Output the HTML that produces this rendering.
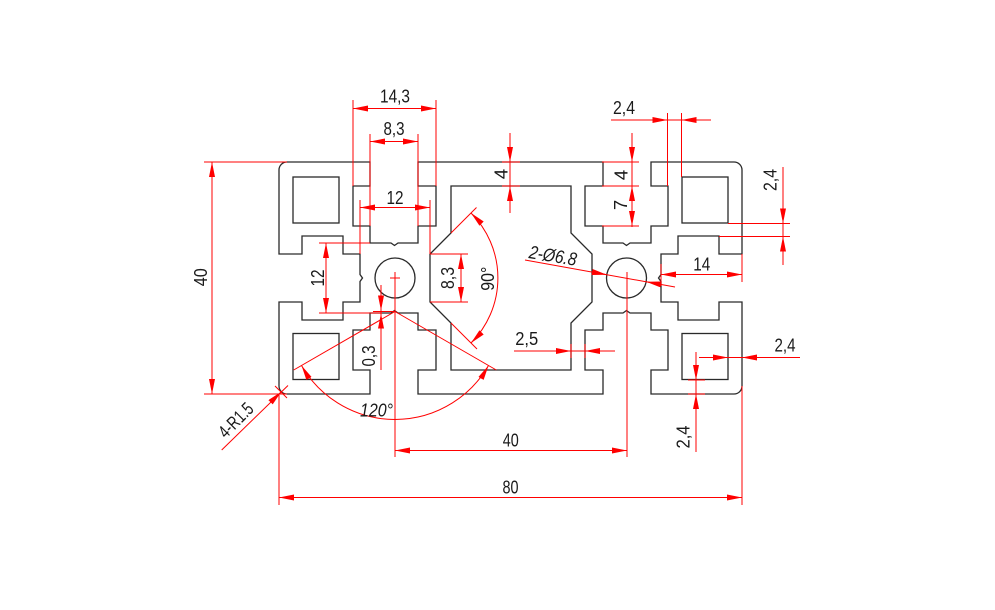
<!DOCTYPE html>
<html>
<head>
<meta charset="utf-8">
<style>
html,body{margin:0;padding:0;background:#fff}
svg{display:block}
text{font-family:"Liberation Sans Narrow","Liberation Sans",sans-serif;font-size:18.5px;fill:#1a1a1a}
</style>
</head>
<body>
<svg width="995" height="610" viewBox="0 0 995 610" xmlns="http://www.w3.org/2000/svg">
<defs>
<marker id="a" viewBox="0 0 15 6" refX="15" refY="3" markerWidth="15" markerHeight="6" markerUnits="userSpaceOnUse" orient="auto-start-reverse">
<path d="M0,0L15,3L0,6z" fill="#f00"/>
</marker>
</defs>
<rect width="995" height="610" fill="#fff"/>

<!-- profile outline -->
<g stroke="#2a2a2a" stroke-width="1.3" fill="none">
<path d="M287,162 H370 V186 H353 V226 H370 V243 H391 L394.5,245.5 L398,243 H418 V226 H436 V186 H418 V162
H603 V186 H585 V226 H603 V243 H623 L626.5,245.5 L630,243 H651 V226 H668 V186 H651 V162
H734 A8,8 0 0 1 742,170
V254 H719 V236 H678 V254 H661 V274.5 L658.5,278 L661,281.5 V302 H678 V320 H719 V302 H742
V386 A8,8 0 0 1 734,394
H651 V370 H668 V330 H651 V313 H630 L626.5,310.5 L623,313 H603 V330 H585 V370 H603 V394
H418 V370 H436 V330 H418 V313 H398 L394.5,310.5 L391,313 H370 V330 H353 V370 H370 V394
H287 A8,8 0 0 1 279,386
V302 H302 V320 H343 V302 H360 V281.5 L362.5,278 L360,274.5 V254 H343 V236 H302 V254 H279
V170 A8,8 0 0 1 287,162 Z"/>
<path d="M451,186 H571 V233 L592,254 V302 L571,323 V370 H451 V323 L430,302 V254 L451,233 Z"/>
<rect x="293" y="177" width="46" height="46"/>
<rect x="293" y="333.5" width="46" height="46"/>
<rect x="682" y="177" width="46" height="46"/>
<rect x="682" y="333.5" width="46" height="46"/>
<circle cx="395" cy="278" r="20"/>
<circle cx="626.5" cy="278" r="20"/>
</g>

<!-- red dimensions -->
<g stroke="#f00" stroke-width="1" fill="none">
<!-- 14,3 -->
<line x1="353" y1="100" x2="353" y2="186"/>
<line x1="436" y1="100" x2="436" y2="186"/>
<line x1="353" y1="108.5" x2="436" y2="108.5" marker-start="url(#a)" marker-end="url(#a)"/>
<!-- 8,3 -->
<line x1="370" y1="134" x2="370" y2="226"/>
<line x1="418" y1="134" x2="418" y2="226"/>
<line x1="370" y1="141.5" x2="418" y2="141.5" marker-start="url(#a)" marker-end="url(#a)"/>
<!-- 12 top -->
<line x1="360" y1="200" x2="360" y2="254"/>
<line x1="430" y1="200" x2="430" y2="254"/>
<line x1="360" y1="207.5" x2="430" y2="207.5" marker-start="url(#a)" marker-end="url(#a)"/>
<!-- 4 top center -->
<line x1="510" y1="133" x2="510" y2="162" marker-end="url(#a)"/>
<line x1="510" y1="162" x2="510" y2="186"/>
<line x1="510" y1="213" x2="510" y2="186" marker-end="url(#a)"/>
<line x1="502" y1="162" x2="520" y2="162"/>
<line x1="502" y1="186" x2="520" y2="186"/>
<!-- 2,4 top right -->
<line x1="611" y1="120" x2="711" y2="120"/>
<line x1="652" y1="120" x2="667.5" y2="120" marker-end="url(#a)"/>
<line x1="696.5" y1="120" x2="681.5" y2="120" marker-end="url(#a)"/>
<line x1="667.5" y1="113" x2="667.5" y2="186"/>
<line x1="681.5" y1="113" x2="681.5" y2="177"/>
<!-- 4 / 7 -->
<line x1="632" y1="133" x2="632" y2="227"/>
<line x1="632" y1="147" x2="632" y2="162" marker-end="url(#a)"/>
<line x1="632" y1="201" x2="632" y2="186" marker-end="url(#a)"/>
<line x1="632" y1="211" x2="632" y2="226" marker-end="url(#a)"/>
<line x1="602" y1="162" x2="639" y2="162"/>
<line x1="602" y1="186" x2="639" y2="186"/>
<line x1="602" y1="226" x2="639" y2="226"/>
<!-- 2,4 right vertical -->
<line x1="783" y1="167" x2="783" y2="265"/>
<line x1="783" y1="208" x2="783" y2="223.5" marker-end="url(#a)"/>
<line x1="783" y1="252" x2="783" y2="236.5" marker-end="url(#a)"/>
<line x1="728" y1="223.5" x2="790" y2="223.5"/>
<line x1="719" y1="236.5" x2="790" y2="236.5"/>
<!-- 40 left -->
<line x1="204" y1="162" x2="287" y2="162"/>
<line x1="204" y1="394" x2="287" y2="394"/>
<line x1="212" y1="162" x2="212" y2="394" marker-start="url(#a)" marker-end="url(#a)"/>
<!-- 12 left -->
<line x1="319" y1="243" x2="370" y2="243"/>
<line x1="319" y1="313" x2="382" y2="313"/>
<line x1="326" y1="243" x2="326" y2="313" marker-start="url(#a)" marker-end="url(#a)"/>
<!-- 0,3 -->
<line x1="373" y1="311.5" x2="395" y2="311.5"/>
<line x1="381" y1="285" x2="381" y2="370"/>
<line x1="381" y1="295" x2="381" y2="310.5" marker-end="url(#a)"/>
<line x1="381" y1="329" x2="381" y2="313.5" marker-end="url(#a)"/>
<!-- hole centers -->
<line x1="390" y1="278" x2="400" y2="278"/>
<line x1="395" y1="272" x2="395" y2="457"/>
<line x1="627" y1="272" x2="627" y2="457"/>
<!-- 40 bottom -->
<line x1="395" y1="450.5" x2="627" y2="450.5" marker-start="url(#a)" marker-end="url(#a)"/>
<!-- 80 -->
<line x1="279" y1="394" x2="279" y2="505"/>
<line x1="742" y1="386" x2="742" y2="505"/>
<line x1="279" y1="497.5" x2="742" y2="497.5" marker-start="url(#a)" marker-end="url(#a)"/>
<!-- 120 deg -->
<line x1="395" y1="311.5" x2="293.7" y2="370"/>
<line x1="395" y1="311.5" x2="496.3" y2="370"/>
<path d="M301.5,365.5 A108,108 0 0 0 488.5,365.5" marker-start="url(#a)" marker-end="url(#a)"/>
<!-- 90 deg -->
<line x1="451" y1="233" x2="476.5" y2="207.5"/>
<line x1="451" y1="323" x2="477" y2="349"/>
<path d="M471,213 A92,92 0 0 1 471,343" marker-start="url(#a)" marker-end="url(#a)"/>
<!-- 8,3 cavity -->
<line x1="430" y1="254" x2="468" y2="254"/>
<line x1="430" y1="302" x2="468" y2="302"/>
<line x1="461" y1="254" x2="461" y2="302" marker-start="url(#a)" marker-end="url(#a)"/>
<!-- diameter leader -->
<line x1="525" y1="260" x2="675" y2="287"/>
<line x1="592" y1="272" x2="606.8" y2="274.7" marker-end="url(#a)"/>
<line x1="661" y1="284.4" x2="646.2" y2="281.7" marker-end="url(#a)"/>
<!-- 14 -->
<line x1="742" y1="254" x2="742" y2="282"/>
<line x1="661" y1="264" x2="661" y2="286"/>
<line x1="661" y1="274.5" x2="742" y2="274.5" marker-start="url(#a)" marker-end="url(#a)"/>
<!-- 2,5 -->
<line x1="514" y1="351" x2="615" y2="351"/>
<line x1="556" y1="351" x2="571" y2="351" marker-end="url(#a)"/>
<line x1="600" y1="351" x2="585" y2="351" marker-end="url(#a)"/>
<line x1="571" y1="344" x2="571" y2="358"/>
<line x1="585" y1="344" x2="585" y2="358"/>
<!-- 2,4 right horizontal -->
<line x1="699" y1="357.5" x2="800" y2="357.5"/>
<line x1="713" y1="357.5" x2="728" y2="357.5" marker-end="url(#a)"/>
<line x1="757" y1="357.5" x2="742" y2="357.5" marker-end="url(#a)"/>
<!-- 2,4 bottom right vertical -->
<line x1="696" y1="352" x2="696" y2="452"/>
<line x1="696" y1="365" x2="696" y2="380" marker-end="url(#a)"/>
<line x1="696" y1="409" x2="696" y2="394" marker-end="url(#a)"/>
<line x1="688" y1="380" x2="705" y2="380"/>
<line x1="688" y1="394" x2="705" y2="394"/>
<!-- R1.5 leader -->
<line x1="221.7" y1="450" x2="288" y2="385.5"/>
<line x1="270.6" y1="402.2" x2="281.3" y2="391.7" marker-end="url(#a)"/>
<line x1="275" y1="386" x2="287" y2="398"/>
</g>

<!-- labels -->
<g text-anchor="middle">
<text x="395" y="102.5" textLength="30" lengthAdjust="spacingAndGlyphs">14,3</text>
<text x="394" y="135" textLength="21" lengthAdjust="spacingAndGlyphs">8,3</text>
<text x="395" y="204" textLength="17" lengthAdjust="spacingAndGlyphs">12</text>
<text transform="translate(507.5,174) rotate(-90)" x="0" y="0">4</text>
<text x="624" y="114" textLength="22" lengthAdjust="spacingAndGlyphs">2,4</text>
<text transform="translate(627.5,175) rotate(-90)" x="0" y="0">4</text>
<text transform="translate(627,205) rotate(-90)" x="0" y="0">7</text>
<text transform="translate(776.5,180) rotate(-90)" x="0" y="0" textLength="22" lengthAdjust="spacingAndGlyphs">2,4</text>
<text transform="translate(207.2,277.3) rotate(-90)" x="0" y="0" textLength="18" lengthAdjust="spacingAndGlyphs">40</text>
<text transform="translate(324,278) rotate(-90)" x="0" y="0" textLength="17" lengthAdjust="spacingAndGlyphs">12</text>
<text transform="translate(454,278) rotate(-90)" x="0" y="0" textLength="22" lengthAdjust="spacingAndGlyphs">8,3</text>
<text transform="translate(494,278.7) rotate(-90)" x="0" y="0" textLength="24" lengthAdjust="spacingAndGlyphs">90°</text>
<text transform="translate(374.8,356) rotate(-90)" x="0" y="0" textLength="21" lengthAdjust="spacingAndGlyphs">0,3</text>
<text x="376.5" y="416.7" font-style="italic" textLength="33" lengthAdjust="spacingAndGlyphs">120°</text>
<text transform="translate(553,255.5) rotate(9.5)" x="0" y="6.5" font-style="italic" textLength="48" lengthAdjust="spacingAndGlyphs">2-Ø6.8</text>
<text x="701.7" y="270.7" textLength="17" lengthAdjust="spacingAndGlyphs">14</text>
<text x="526.7" y="345" textLength="23" lengthAdjust="spacingAndGlyphs">2,5</text>
<text x="785" y="351.5" textLength="21" lengthAdjust="spacingAndGlyphs">2,4</text>
<text transform="translate(689.5,437) rotate(-90)" x="0" y="0" textLength="23" lengthAdjust="spacingAndGlyphs">2,4</text>
<text x="510.7" y="446.7" textLength="16" lengthAdjust="spacingAndGlyphs">40</text>
<text x="510.5" y="493.3" textLength="16" lengthAdjust="spacingAndGlyphs">80</text>
<text transform="translate(235.7,420) rotate(-45)" x="0" y="6.5" textLength="41" lengthAdjust="spacingAndGlyphs">4-R1.5</text>
</g>
</svg>
</body>
</html>
